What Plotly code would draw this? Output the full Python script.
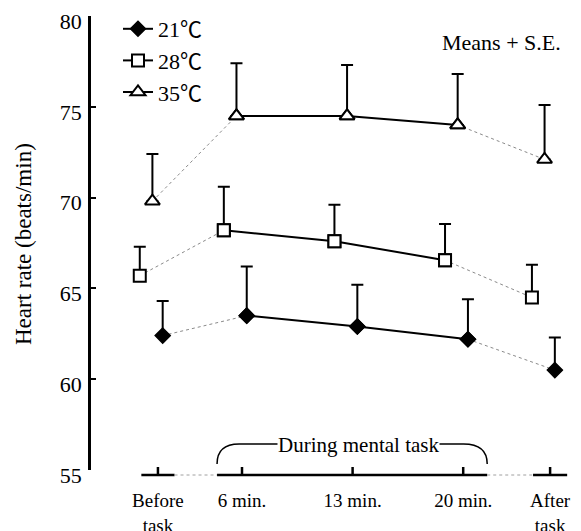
import plotly.graph_objects as go

# ---- data ----
conditions = ["Before<br>task", "6 min.", "13 min.", "20 min.", "After<br>task"]
tick_positions = [0.68, 6, 13, 20, 25.5]
series_names = ["21℃", "28℃", "35℃"]
hr_21 = [62.4, 63.5, 62.9, 62.2, 60.5]
se_21 = [1.9, 2.7, 2.3, 2.2, 1.8]
hr_28 = [65.7, 68.2, 67.6, 66.55, 64.5]
se_28 = [1.6, 2.4, 2.0, 2.0, 1.8]
hr_35 = [69.8, 74.5, 74.5, 74.0, 72.1]
se_35 = [2.6, 2.9, 2.8, 2.8, 3.0]
y_ticks = [55, 60, 65, 70, 75, 80]

FONT = "Liberation Serif, Noto Sans CJK JP, serif"
# the page body has an 8px margin: the figure is drawn 8px smaller and offset
OFF = 8
W, H = 581 - OFF, 531 - OFF
L, R, T = 91 - OFF, 6, 16 - OFF
PLOT_BOTTOM = 470 - OFF
B = H - PLOT_BOTTOM
plot_h = PLOT_BOTTOM - T
plot_w = W - L - R


def py(px):
    """reference pixel row -> paper y"""
    return (PLOT_BOTTOM - (px - OFF)) / plot_h


def px_(px):
    """reference pixel column -> paper x"""
    return ((px - OFF) - L) / plot_w


styles = [
    dict(symbol="diamond", size=11.5, color="black", line=dict(color="black", width=1.5), offset=0.3),
    dict(symbol="square", size=12, color="white", line=dict(color="black", width=2), offset=-1.15),
    dict(symbol="triangle-up", size=13, color="white", line=dict(color="black", width=2), offset=-0.35),
]
values = [hr_21, hr_28, hr_35]
errors = [se_21, se_28, se_35]

fig = go.Figure()

for name, vals, ses, st in zip(series_names, values, errors, styles):
    xs = [p + st["offset"] for p in tick_positions]
    fig.add_trace(go.Scatter(
        x=[xs[0], xs[1], None, xs[3], xs[4]],
        y=[vals[0], vals[1], None, vals[3], vals[4]],
        mode="lines", line=dict(color="#8a8a8a", width=1, dash="dot"),
        showlegend=False, hoverinfo="skip"))
for name, vals, ses, st in zip(series_names, values, errors, styles):
    xs = [p + st["offset"] for p in tick_positions]
    mk = dict(symbol=st["symbol"], size=st["size"], color=st["color"], line=st["line"])
    fig.add_trace(go.Scatter(
        x=xs, y=vals, mode="markers", marker=mk, showlegend=False,
        error_y=dict(type="data", symmetric=False, array=ses, arrayminus=[0] * len(ses),
                     color="black", thickness=2, width=6)))
for name, vals, ses, st in zip(series_names, values, errors, styles):
    xs = [p + st["offset"] for p in tick_positions]
    mk = dict(symbol=st["symbol"], size=st["size"], color=st["color"], line=st["line"])
    fig.add_trace(go.Scatter(
        x=xs[1:4], y=vals[1:4], mode="lines+markers", name=name,
        line=dict(color="black", width=2), marker=mk))

# ---- custom x axis (segmented) ----
shapes = []
seg_y = py(475)
tick_top = py(467)
segments = [
    (tick_positions[0] - 1.05, tick_positions[0] + 1.05),
    (tick_positions[1] - 1.58, tick_positions[3] + 1.52),
    (tick_positions[4] - 1.08, tick_positions[4] + 1.08),
]
for x0, x1 in segments:
    shapes.append(dict(type="line", xref="x", yref="paper", x0=x0, x1=x1, y0=seg_y, y1=seg_y,
                       line=dict(color="black", width=2.5)))
for (a0, a1), (b0, b1) in zip(segments[:-1], segments[1:]):
    shapes.append(dict(type="line", xref="x", yref="paper", x0=a1, x1=b0, y0=seg_y, y1=seg_y,
                       line=dict(color="#a0a0a0", width=1, dash="dot")))
for p in tick_positions:
    shapes.append(dict(type="line", xref="x", yref="paper", x0=p, x1=p, y0=seg_y, y1=tick_top,
                       line=dict(color="black", width=2.5)))

# bracket over "During mental task"
bl, br = segments[1]
yb, yt = py(464), py(444)
bracket = (f"M {bl},{yb} Q {bl},{yt} {bl + 1.4},{yt} "
           f"L {br - 1.5},{yt} Q {br},{yt} {br},{yb}")
shapes.append(dict(type="path", xref="x", yref="paper", path=bracket,
                   line=dict(color="black", width=1.5)))

annotations = [
    dict(text="During mental task", x=(tick_positions[1] + tick_positions[3]) / 2 + 0.4,
         xref="x", yref="paper", y=py(445), xanchor="center", yanchor="middle",
         showarrow=False, bgcolor="white",
         font=dict(family=FONT, size=21, color="black"), borderpad=0),
    dict(text="Means + S.E.", x=px_(501), y=py(42), xref="paper", yref="paper",
         xanchor="center", yanchor="middle",
         showarrow=False, font=dict(family=FONT, size=22, color="black")),
    dict(text="Heart rate (beats/min)", x=px_(23), y=py(244), xref="paper",
         yref="paper", xanchor="center", yanchor="middle", showarrow=False, textangle=-90,
         font=dict(family=FONT, size=23, color="black")),
]

fig.update_layout(
    width=W, height=H,
    margin=dict(l=L, r=R, t=T, b=B, autoexpand=False),
    paper_bgcolor="white", plot_bgcolor="white",
    font=dict(family=FONT, size=20, color="black"),
    shapes=shapes, annotations=annotations,
    legend=dict(x=px_(118), y=py(8), xanchor="left", yanchor="top",
                bgcolor="rgba(0,0,0,0)", font=dict(family=FONT, size=22, color="black"),
                traceorder="normal"),
    showlegend=True,
)
fig.update_xaxes(
    range=[6 - (242 - 91) / 15.8, 6 + (575 - 242) / 15.8],
    tickvals=tick_positions, ticktext=conditions, showline=False, zeroline=False,
    showgrid=False, ticks="", ticklabelstandoff=17, ticklabeloverflow="allow",
    tickfont=dict(family=FONT, size=19, color="black"),
)
fig.update_yaxes(
    range=[55, 80], tickvals=y_ticks, showline=True, linecolor="black", linewidth=2.5,
    ticks="inside", ticklen=5, tickwidth=2, tickcolor="black", zeroline=False,
    showgrid=False, ticklabelstandoff=2, ticklabelshift=5, ticklabeloverflow="allow",
    tickfont=dict(family=FONT, size=22, color="black"),
)

fig.write_html("out.html")
